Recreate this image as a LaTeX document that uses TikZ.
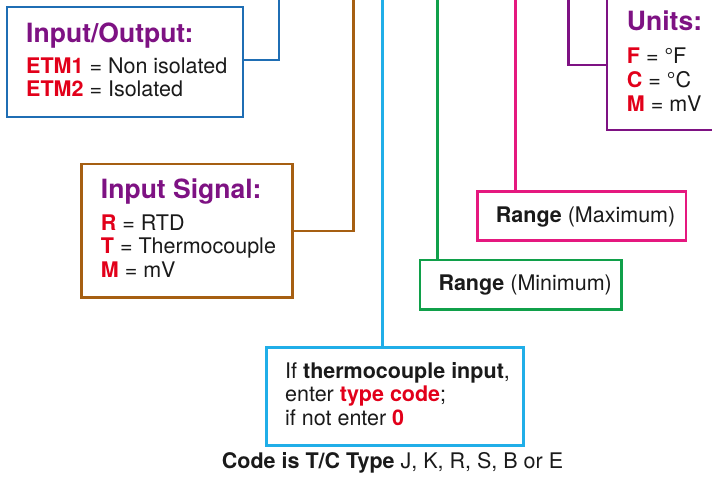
\documentclass[tikz,border=0pt]{standalone}
\usepackage{fontspec}
\setmainfont{TeX Gyre Heros}
\definecolor{cblue}{HTML}{1F6EB4}
\definecolor{cbrown}{HTML}{A65F12}
\definecolor{cpurple}{HTML}{7E1283}
\definecolor{cred}{HTML}{E2001A}
\definecolor{clblue}{HTML}{20AEE8}
\definecolor{cgreen}{HTML}{10A04A}
\definecolor{cpink}{HTML}{E5187F}
\definecolor{ctext}{HTML}{1A1A1A}
\newcommand\redb[1]{\textcolor{cred}{\bfseries #1}}
\begin{document}
\begin{tikzpicture}[x=1pt,y=-1pt,
  box/.style={draw=#1, line width=2.8pt, rectangle, inner sep=0pt, fill=white},
  conn/.style={draw=#1, line width=2.6pt},
  head/.style={anchor=base west, inner sep=0pt, font=\fontsize{26.5}{30}\selectfont\bfseries, text=cpurple},
  txt/.style={anchor=base west, inner sep=0pt, font=\fontsize{21.5}{24}\selectfont, text=ctext},
]
\useasboundingbox[fill=white] (0,0) rectangle (712,477);

% boxes
\node[box=cblue, minimum width=236, minimum height=110] (io) at (125,62) {};
\node[box=cbrown, minimum width=211, minimum height=133.7] (sig) at (187.2,230.9) {};
\node[box=cpurple, minimum width=123, minimum height=137] (units) at (668.5,61.5) {};
\node[box=cpink, minimum width=208.7, minimum height=49] (rmax) at (581.6,216.2) {};
\node[box=cgreen, minimum width=201.7, minimum height=49.3] (rmin) at (520.9,284.7) {};
\node[box=clblue, minimum width=256.6, minimum height=98.4] (tc) at (395,396.5) {};

% connector tops
\coordinate (ioT) at (279,-5);
\coordinate (sigT) at (353.5,-5);
\coordinate (tcT) at (382.7,-5);
\coordinate (rminT) at (437.3,-5);
\coordinate (rmaxT) at (515.5,-5);
\coordinate (unitsT) at (568.3,-5);
\coordinate (ioJ) at (0,60);
\coordinate (unitsJ) at (0,65);

\draw[conn=cblue] (io.east |- ioJ) -| (ioT);
\draw[conn=cbrown] (sig.east) -| (sigT);
\draw[conn=clblue] (tcT |- tc.north) -- (tcT);
\draw[conn=cgreen] (rminT |- rmin.north) -- (rminT);
\draw[conn=cpink] (rmaxT |- rmax.north) -- (rmaxT);
\draw[conn=cpurple] (units.west |- unitsJ) -| (unitsT);

% texts
\node[head] (ioH) at (26,42) {Input/Output:};
\node[txt] (io1) at (26,73.3) {\redb{ETM1} = Non isolated};
\node[txt] (io2) at (26,96.7) {\redb{ETM2} = Isolated};

\node[head] (sigH) at (100.7,198) {Input Signal:};
\node[txt] (sig1) at (100.7,230) {\redb{R} = RTD};
\node[txt] (sig2) at (100.7,253.5) {\redb{T} = Thermocouple};
\node[txt] (sig3) at (100.7,277.5) {\redb{M} = mV};

\node[head] (unH) at (626.7,30) {Units:};
\node[txt] (un1) at (626.7,63.3) {\redb{F} = °F};
\node[txt] (un2) at (626.7,87.3) {\redb{C} = °C};
\node[txt] (un3) at (626.7,111) {\redb{M} = mV};

\node[txt] (rmaxL) at (495.7,222.7) {\textbf{Range} (Maximum)};
\node[txt] (rminL) at (438.3,290.7) {\textbf{Range} (Minimum)};

\node[txt] (tc1) at (285,378.3) {If \textbf{thermocouple input},};
\node[txt] (tc2) at (285,401.7) {enter \redb{type code};};
\node[txt] (tc3) at (285,425) {if not enter \redb{0}};

\node[txt] (cap) at (221.7,468.3) {\textbf{Code is T/C Type} J, K, R, S, B or E};
\end{tikzpicture}
\end{document}
